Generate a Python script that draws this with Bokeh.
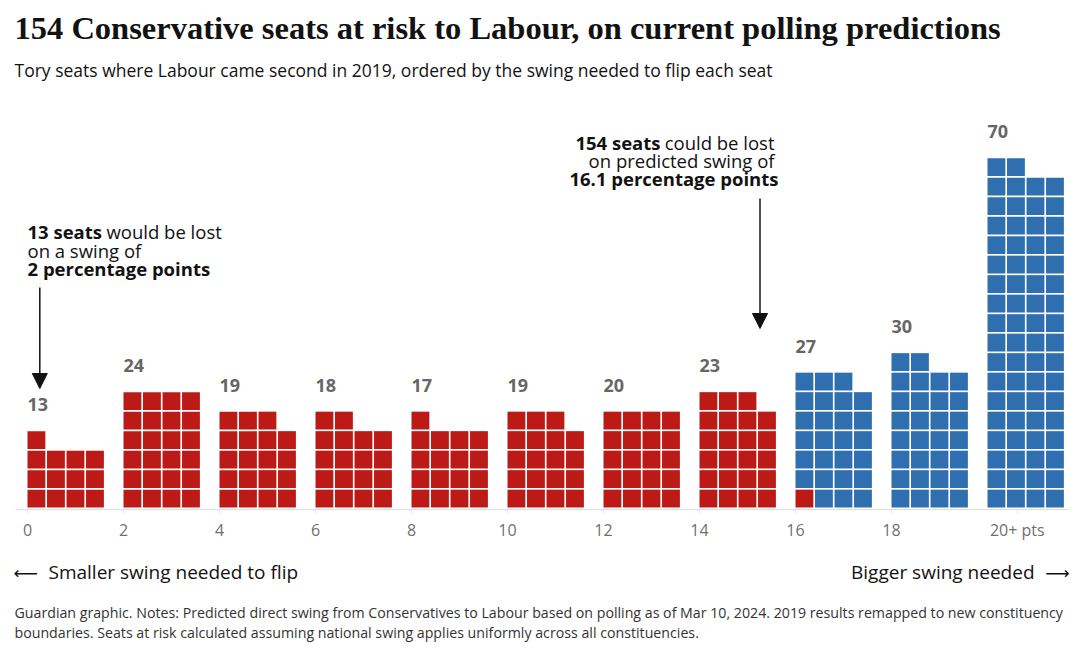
from bokeh.plotting import figure
from bokeh.models import Range1d, FixedTicker, Label, Arrow, NormalHead, ColumnDataSource
from bokeh.embed import file_html
from bokeh.resources import INLINE
from bokeh.core.properties import value

# ---------------- data ----------------
bin_starts = [0, 2, 4, 6, 8, 10, 12, 14, 16, 18, 20]
seat_counts = [13, 24, 19, 18, 17, 19, 20, 23, 27, 30, 70]
seats_lost = 154
tick_values = [0, 2, 4, 6, 8, 10, 12, 14, 16, 18, 20.62]
tick_labels = ["0", "2", "4", "6", "8", "10", "12", "14", "16", "18", "20+ pts"]

title_text = "154 Conservative seats at risk to Labour, on current polling predictions"
subtitle_text = "Tory seats where Labour came second in 2019, ordered by the swing needed to flip each seat"
left_note = ["13 seats", "would be lost", "on a swing of", "2 percentage points"]
right_note = ["154 seats", "could be lost", "on predicted swing of", "16.1 percentage points"]
footer_left = "Smaller swing needed to flip"
footer_right = "Bigger swing needed"
arrow_left = "\u27f5"
arrow_right = "\u27f6"
notes = [
    "Guardian graphic. Notes: Predicted direct swing from Conservatives to Labour based on polling as of Mar 10, 2024. 2019 results remapped to new constituency",
    "boundaries. Seats at risk calculated assuming national swing applies uniformly across all constituencies.",
]

# ---------------- styling ----------------
RED = "#bb1a16"
BLUE = "#2f6fb0"
INK = "#121212"
FONT = "Open Sans"
COLS = 4
PITCH_X = 0.4065
SIZE_X = 0.372
SIZE_Y = 0.915

W, H = 1080, 667
PX_PER_X = 48.0
PX_PER_Y = 19.5
ORIGIN_PX, ORIGIN_PY = 27, 507
x_start = -ORIGIN_PX / PX_PER_X
y_end = ORIGIN_PY / PX_PER_Y
x_range = Range1d(x_start, x_start + W / PX_PER_X)
y_range = Range1d(y_end - H / PX_PER_Y, y_end)


def px2x(px):
    return (px - ORIGIN_PX) / PX_PER_X


def py2y(py):
    return (ORIGIN_PY - py) / PX_PER_Y


p = figure(width=W, height=H, x_range=x_range, y_range=y_range,
           output_backend="svg", toolbar_location=None,
           min_border_left=0, min_border_right=0, min_border_top=0, min_border_bottom=0)
p.outline_line_color = None
p.grid.visible = False
p.yaxis.visible = False
p.background_fill_color = "white"
p.border_fill_color = "white"

# waffle squares
left, right, bottom, top, color = [], [], [], [], []
count = 0
for s, n in zip(bin_starts, seat_counts):
    for i in range(n):
        c, r = i % COLS, i // COLS
        left.append(s + c * PITCH_X)
        right.append(s + c * PITCH_X + SIZE_X)
        bottom.append(r)
        top.append(r + SIZE_Y)
        color.append(RED if count < seats_lost else BLUE)
        count += 1
p.quad(left="left", right="right", bottom="bottom", top="top", color="color",
       source=ColumnDataSource(dict(left=left, right=right, bottom=bottom, top=top, color=color)),
       line_color=None)

# count labels
lab_src = ColumnDataSource(dict(
    x=bin_starts,
    y=[-(-n // COLS) for n in seat_counts],
    text=[str(n) for n in seat_counts]))
p.text(x="x", y="y", text="text", source=lab_src, text_font=value(FONT),
       text_font_style="bold", text_font_size="18px", text_color="#666666",
       text_baseline="alphabetic", text_align="left", y_offset=-25)

# x axis at the baseline
ax = p.xaxis[0]
ax.fixed_location = py2y(509)
ax.bounds = (px2x(15), px2x(1068))
ax.ticker = FixedTicker(ticks=tick_values)
ax.major_label_overrides = {t: l for t, l in zip(tick_values, tick_labels)}
ax.axis_line_color = "#dcdcdc"
ax.major_tick_line_color = "#e6e6e6"
ax.major_tick_in = 0
ax.major_tick_out = 4
ax.minor_tick_line_color = None
ax.major_label_text_font = FONT
ax.major_label_text_font_size = "16px"
ax.major_label_text_color = "#707070"
ax.major_label_standoff = 5


def label(text, px, py, size="18px", font=FONT, bold=False, align="left", color=INK):
    p.add_layout(Label(x=px2x(px), y=py2y(py), text=text, text_font=font,
                       text_font_size=size, text_font_style="bold" if bold else "normal",
                       text_color=color, text_align=align, text_baseline="middle"))


# headings
label(title_text, 14, 27, size="32.5px", font="Liberation Serif", bold=True)
label(subtitle_text, 14, 69, size="17.5px")

# left annotation
label(left_note[0], 27, 231, size="18.5px", bold=True)
label(left_note[1], 106, 231, size="18.5px")
label(left_note[2], 27, 250, size="18.5px")
label(left_note[3], 27, 268, size="18.5px", bold=True)
# right annotation
label(right_note[1], 774, 142, size="18.5px", align="right")
label(right_note[0], 660, 142, size="18.5px", bold=True, align="right")
label(right_note[2], 774, 160, size="18.5px", align="right")
label(right_note[3], 778, 178, size="18.5px", bold=True, align="right")

for ax_px, y_from, y_to in [(39.3, 287, 388), (759.5, 198, 328)]:
    p.add_layout(Arrow(end=NormalHead(size=15, fill_color=INK, line_color=INK),
                       x_start=px2x(ax_px), y_start=py2y(y_from),
                       x_end=px2x(ax_px), y_end=py2y(y_to),
                       line_width=1.5, line_color=INK))

# footer
label(arrow_left, 13, 572, size="17px", font="DejaVu Sans")
label(footer_left, 48, 571, size="19px")
label(footer_right, 1034, 571, size="19px", align="right")
label(arrow_right, 1069, 572, size="17px", font="DejaVu Sans", align="right")
label(notes[0], 14, 612, size="14.2px", color="#333333")
label(notes[1], 14, 632, size="14.2px", color="#333333")

open("out.html", "w").write(file_html(p, INLINE))
